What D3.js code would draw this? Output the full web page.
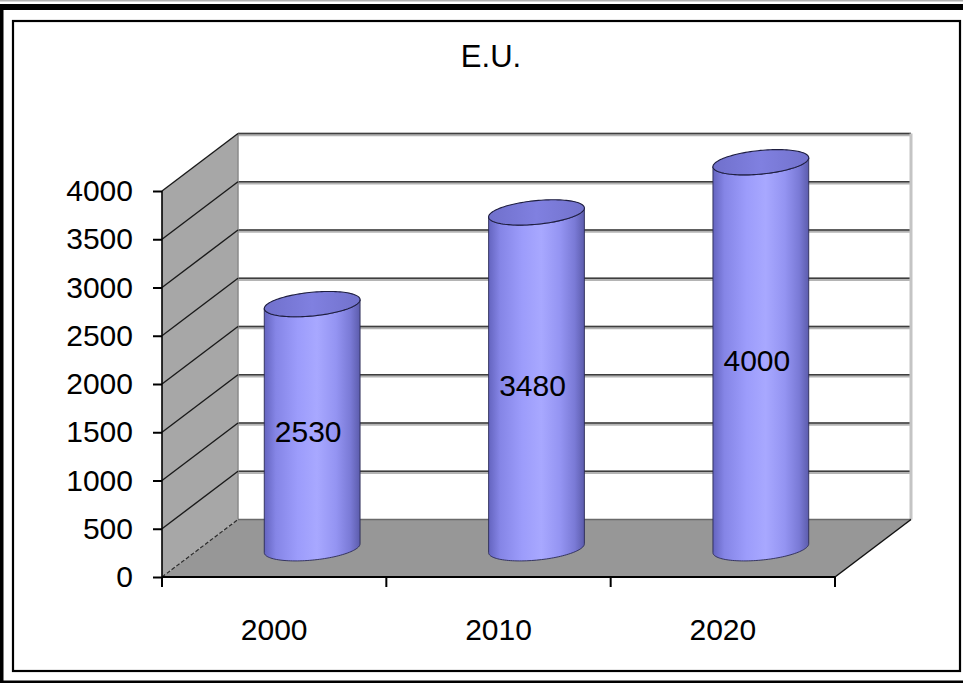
<!DOCTYPE html>
<html>
<head>
<meta charset="utf-8">
<script src="https://cdnjs.cloudflare.com/ajax/libs/d3/7.8.5/d3.min.js"></script>
<style>
  html, body { margin: 0; padding: 0; background: #ffffff; }
  svg { display: block; }
  text { font-family: Arial, "Liberation Sans", sans-serif; fill: #000; }
</style>
</head>
<body>
<svg id="chart" width="963" height="683"></svg>
<script>
// ---- data ----
const chartTitle = "E.U.";
const categories = ["2000", "2010", "2020"];
const values = [2530, 3480, 4000];
const yTickValues = [0, 500, 1000, 1500, 2000, 2500, 3000, 3500, 4000];

// ---- layout ----
const W = 963, H = 683;
const plotLeft = 162, plotRight = 835, plotBottom = 577, plotTop = 191;
const depthX = 76, depthY = -57.5;   // oblique offset of the back wall

const svg = d3.select("#chart");

const x = d3.scaleBand().domain(categories).range([plotLeft, plotRight]).padding(0);
const y = d3.scaleLinear().domain([0, 4000]).range([plotBottom, plotTop]);

// ---- outer frame ----
svg.append("rect").attr("x", 0).attr("y", 0).attr("width", W).attr("height", 1.5).attr("fill", "#b0b0b0");
svg.append("rect").attr("x", 0).attr("y", 4).attr("width", W).attr("height", 6).attr("fill", "#000");
svg.append("rect").attr("x", 0).attr("y", 4).attr("width", 3.5).attr("height", H - 4).attr("fill", "#000");
svg.append("rect").attr("x", 0).attr("y", 680.5).attr("width", W).attr("height", 2.5).attr("fill", "#000");
svg.append("rect").attr("x", 13).attr("y", 21).attr("width", 947).attr("height", 650)
  .attr("fill", "#fff").attr("stroke", "#000").attr("stroke-width", 2.2);

// ---- title ----
svg.append("text").attr("x", 491).attr("y", 67).attr("text-anchor", "middle")
  .style("font-size", "31px").text(chartTitle);

const bx0 = plotLeft + depthX, bx1 = plotRight + depthX;  // back wall x-range
const yb = v => y(v) + depthY;                            // back wall y

// ---- side wall ----
svg.append("path")
  .attr("d", `M${plotLeft},${y(4000)}L${bx0},${yb(4000)}L${bx0},${yb(0)}L${plotLeft},${y(0)}Z`)
  .attr("fill", "#a7a7a7");

// ---- floor ----
svg.append("path")
  .attr("d", `M${plotLeft},${y(0)}L${bx0},${yb(0)}L${bx1},${yb(0)}L${plotRight},${y(0)}Z`)
  .attr("fill", "#979797");

// ---- back wall gridlines ----
const gridVals = yTickValues.filter(v => v > 0);
svg.append("g").selectAll("line.halo").data(gridVals).join("line")
  .attr("x1", bx0).attr("x2", bx1).attr("y1", d => yb(d) + 1).attr("y2", d => yb(d) + 1)
  .attr("stroke", "#b4b4b4").attr("stroke-width", 3.5);
svg.append("g").selectAll("line.grid").data(gridVals).join("line")
  .attr("x1", bx0).attr("x2", bx1).attr("y1", d => yb(d)).attr("y2", d => yb(d))
  .attr("stroke", "#3e3e3e").attr("stroke-width", 1.6);
// back wall edges
svg.append("line").attr("x1", bx1).attr("x2", bx1).attr("y1", yb(4000)).attr("y2", yb(0))
  .attr("stroke", "#c4c4c4").attr("stroke-width", 3);
svg.append("line").attr("x1", bx0).attr("x2", bx0).attr("y1", yb(4000)).attr("y2", yb(0))
  .attr("stroke", "#8a8a8a").attr("stroke-width", 1.5);
svg.append("line").attr("x1", bx0).attr("x2", bx1).attr("y1", yb(0)).attr("y2", yb(0))
  .attr("stroke", "#6a6a6a").attr("stroke-width", 1.5);

// ---- side wall diagonals ----
svg.append("g").selectAll("line").data(yTickValues).join("line")
  .attr("x1", plotLeft).attr("x2", bx0)
  .attr("y1", d => y(d)).attr("y2", d => yb(d))
  .attr("stroke", d => d === 0 ? "#2a2a2a" : "#1a1a1a")
  .attr("stroke-width", d => d === 0 ? 1.2 : 1.4)
  .attr("stroke-dasharray", d => d === 0 ? "4,2" : null);

// floor right edge
svg.append("line").attr("x1", plotRight).attr("y1", y(0)).attr("x2", bx1).attr("y2", yb(0))
  .attr("stroke", "#111").attr("stroke-width", 1.5);

// ---- cylinders ----
const defs = svg.append("defs");
const grad = defs.append("linearGradient").attr("id", "cylGrad")
  .attr("x1", "0%").attr("x2", "100%").attr("y1", "0%").attr("y2", "0%");
[["0%", "#6464bf"], ["12%", "#8585e6"], ["35%", "#9c9cfb"], ["55%", "#a8a8ff"],
 ["75%", "#9494f2"], ["90%", "#7a7ad6"], ["100%", "#5c5cac"]]
  .forEach(([o, c]) => grad.append("stop").attr("offset", o).attr("stop-color", c));
const topGrad = defs.append("linearGradient").attr("id", "topGrad")
  .attr("x1", "0%").attr("x2", "100%").attr("y1", "0%").attr("y2", "0%");
[["0%", "#7070cc"], ["50%", "#8080e0"], ["100%", "#7272cc"]]
  .forEach(([o, c]) => topGrad.append("stop").attr("offset", o).attr("stop-color", c));

const dLen = Math.hypot(depthX, depthY);
const ux = depthX / dLen, uy = depthY / dLen;
const rA = x.bandwidth() * 0.2;   // horizontal semi-axis
const rK = 21;                    // depth semi-axis
const tEdge = Math.atan2(rK * ux, rA);

function ellPt(cx, cy, t) {
  return [cx + rA * Math.cos(t) + rK * ux * Math.sin(t), cy + rK * uy * Math.sin(t)];
}
function arcPts(cx, cy, t0, t1, n) {
  const pts = [];
  for (let i = 0; i <= n; i++) pts.push(ellPt(cx, cy, t0 + (t1 - t0) * i / n));
  return pts;
}

const bars = categories.map((c, i) => {
  const cx = x(c) + x.bandwidth() / 2 + depthX / 2;
  const baseY = y(0) + depthY / 2;
  const topY = y(values[i]) + depthY / 2;
  return { c, v: values[i], cx, baseY, topY };
});

const gBars = svg.append("g");
bars.forEach(b => {
  const bottom = arcPts(b.cx, b.baseY, tEdge + Math.PI, tEdge + 2 * Math.PI, 60);
  const top = arcPts(b.cx, b.topY, tEdge + 2 * Math.PI, tEdge + Math.PI, 60);
  const body = bottom.concat(top);
  gBars.append("path")
    .attr("d", d3.line()(body) + "Z")
    .attr("fill", "url(#cylGrad)")
    .attr("stroke", "#2a2a55").attr("stroke-width", 0.9);
  const full = arcPts(b.cx, b.topY, 0, 2 * Math.PI, 120);
  gBars.append("path")
    .attr("d", d3.line()(full) + "Z")
    .attr("fill", "url(#topGrad)")
    .attr("stroke", "#1e1e40").attr("stroke-width", 1.1);
});

// ---- data labels ----
svg.append("g").selectAll("text").data(bars).join("text")
  .attr("x", d => d.cx - 4)
  .attr("y", d => (d.baseY + d.topY) / 2 + 16)
  .attr("text-anchor", "middle")
  .style("font-size", "30px")
  .text(d => d.v);

// ---- y axis ----
const yAxis = svg.append("g").attr("transform", `translate(${plotLeft},0)`)
  .call(d3.axisLeft(y).tickValues(yTickValues).tickSize(9).tickPadding(20).tickFormat(d3.format("d")));
yAxis.select(".domain").attr("stroke", "#000").attr("stroke-width", 1.6)
  .attr("d", `M0,${y(4000)}V${y(0)}`);
yAxis.selectAll(".tick line").attr("stroke", "#000").attr("stroke-width", 2);
yAxis.selectAll(".tick text").style("font-size", "30px").attr("font-family", null).attr("fill", "#000");

// ---- x axis ----
svg.append("line").attr("x1", plotLeft).attr("x2", plotRight).attr("y1", y(0)).attr("y2", y(0))
  .attr("stroke", "#000").attr("stroke-width", 1.8);
const xEdges = categories.map(c => x(c)).concat([plotRight]);
svg.append("g").selectAll("line").data(xEdges).join("line")
  .attr("x1", d => d).attr("x2", d => d).attr("y1", y(0)).attr("y2", y(0) + 10)
  .attr("stroke", "#000").attr("stroke-width", 2);
const xAxis = svg.append("g").attr("transform", `translate(0,${y(0)})`)
  .call(d3.axisBottom(x).tickSize(0).tickPadding(42));
xAxis.select(".domain").remove();
xAxis.selectAll(".tick text").style("font-size", "30px").attr("font-family", null).attr("fill", "#000");
</script>
</body>
</html>
